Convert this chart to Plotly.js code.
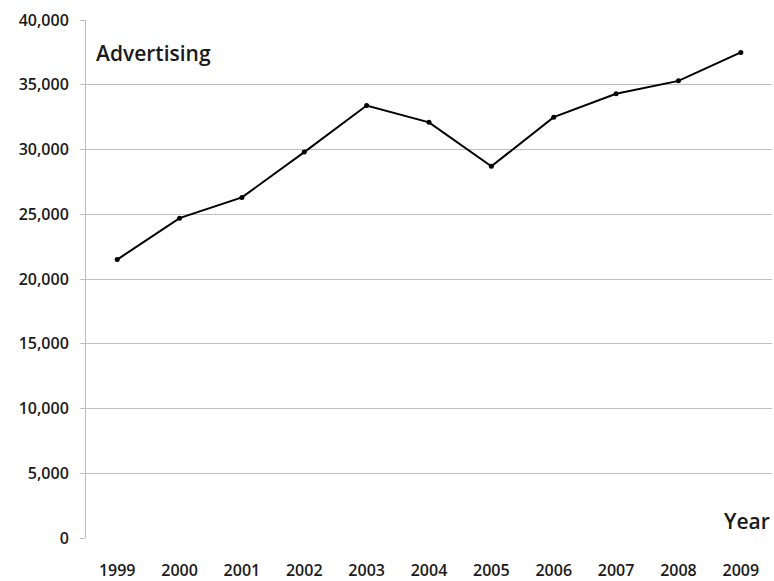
<!DOCTYPE html>
<html>
<head>
<meta charset="utf-8">
<script src="https://cdn.plot.ly/plotly-3.0.1.min.js"></script>
<style>html,body{margin:0;padding:0;background:#fff;}#chart{width:774px;height:581px;}</style>
</head>
<body>
<div id="chart"></div>
<script>
const years = ['1999','2000','2001','2002','2003','2004','2005','2006','2007','2008','2009'];
const advertising = [21500, 24700, 26300, 29800, 33400, 32100, 28700, 32500, 34300, 35300, 37500];
const yTicks = [0, 5000, 10000, 15000, 20000, 25000, 30000, 35000, 40000];
const yTickLabels = ['0', '5,000', '10,000', '15,000', '20,000', '25,000', '30,000', '35,000', '40,000'];

const font = 'Open Sans, DejaVu Sans, sans-serif';
Plotly.newPlot('chart', [{
  x: years, y: advertising, type: 'scatter', mode: 'lines+markers',
  line: {color: '#000', width: 2}, marker: {color: '#000', size: 5},
  showlegend: false
}], {
  width: 774, height: 581,
  margin: {l: 86, r: 2, t: 20, b: 43},
  paper_bgcolor: '#fff', plot_bgcolor: '#fff',
  font: {family: font, color: '#1a1a1a', size: 16},
  xaxis: {
    type: 'category', range: [-0.5, 10.5], showgrid: false, showline: false,
    ticks: '', tickfont: {size: 16, family: font, weight: 600, color: '#1a1a1a'}, ticklabelstandoff: 21, zeroline: false
  },
  yaxis: {
    range: [0, 40000], tickvals: yTicks, ticktext: yTickLabels,
    showgrid: true, gridcolor: '#bfbfbf', gridwidth: 1,
    showline: true, linecolor: '#bfbfbf', linewidth: 1,
    ticks: 'outside', ticklen: 5, tickcolor: '#bfbfbf', ticklabelstandoff: 8,
    tickfont: {size: 16, family: font, weight: 600, color: '#1a1a1a'}, zeroline: false, fixedrange: true
  },
  annotations: [
    {text: 'Advertising', xref: 'paper', yref: 'paper', x: 0.012, y: 0.937, xanchor: 'left', yanchor: 'middle',
     showarrow: false, font: {size: 21, family: font, weight: 600, color: '#1a1a1a'}},
    {text: 'Year', xref: 'paper', yref: 'paper', x: 1.0, y: 0.033, xanchor: 'right', yanchor: 'middle',
     showarrow: false, font: {size: 21, family: font, weight: 600, color: '#1a1a1a'}}
  ]
}, {staticPlot: true});
</script>
</body>
</html>
